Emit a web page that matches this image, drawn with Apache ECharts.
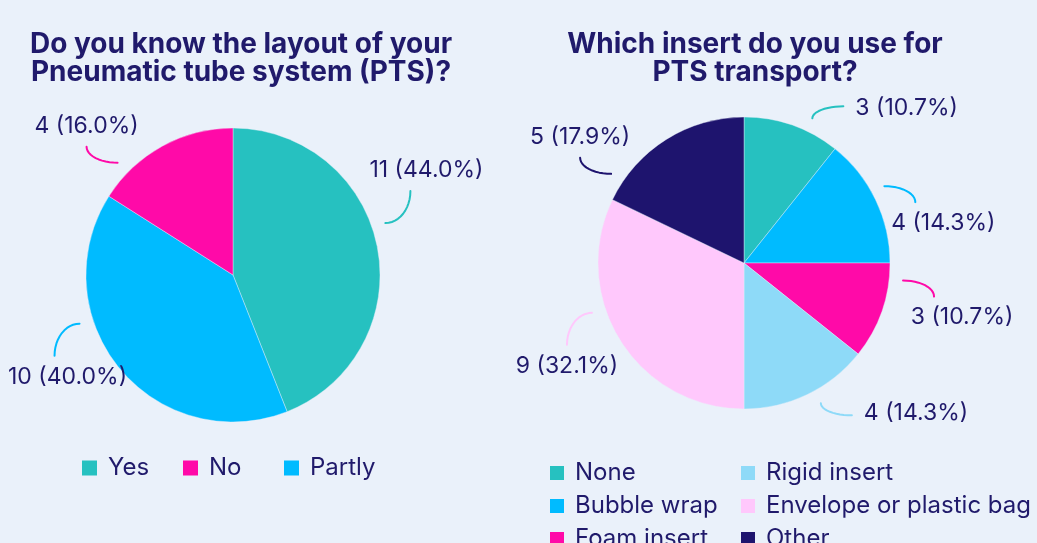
<!DOCTYPE html>
<html>
<head>
<meta charset="utf-8">
<script src="https://cdn.jsdelivr.net/npm/echarts@6/dist/echarts.min.js"></script>
<style>
  html, body { margin: 0; padding: 0; background: #eaf1fa; }
  #myChart { width: 1037px; height: 543px; }
</style>
</head>
<body>
<div id="myChart"></div>
<script>
// left pie: layout knowledge
var layoutNames = ['Yes', 'Partly', 'No'];
var layoutValues = [11, 10, 4];
var layoutLegend = ['Yes', 'No', 'Partly'];

// right pie: insert used
var insertNames = ['None', 'Bubble wrap', 'Foam insert', 'Rigid insert', 'Envelope or plastic bag', 'Other'];
var insertValues = [3, 4, 3, 4, 9, 5];

// styling
var layoutColors = ['#26c1c0', '#00bbff', '#ff0aa8'];
var insertColors = ['#26c1c0', '#00bbff', '#ff0aa8', '#8edaf8', '#ffc8fc', '#1e146e'];
// label tick nudges (degrees) and bend direction
var layoutLabelShift = [-8, 22, -17];
var layoutTick = ['up', 'down', 'up'];
var insertLabelShift = [6, -3, -13, -3, 14, -24];
var insertTick = ['side', 'down', 'down', 'side', 'down', 'up'];

var navy = '#201a6b';
var font = 'Inter';
var chartW = 1037;

function toData(names, values, colors) {
    var arr = [];
    for (var i = 0; i < names.length; i++) {
        arr.push({ name: names[i], value: values[i], itemStyle: { color: colors[i] } });
    }
    return arr;
}

// curved tick + label placement, worked out from each slice's mid angle
function makeLabelLayout(values, cx, cy, r, shifts, ticks) {
    var total = 0, mids = [], acc = 0, i;
    for (i = 0; i < values.length; i++) total += values[i];
    for (i = 0; i < values.length; i++) {
        mids.push((acc + values[i] / 2) / total * 360);
        acc += values[i];
    }
    return function(p) {
        var k = p.dataIndex;
        var big = values[k] / total > 0.25;
        var a = (mids[k] + shifts[k]) * Math.PI / 180;
        var sx = Math.sin(a), sy = -Math.cos(a);
        var hx = sx >= 0 ? 1 : -1, vy = sy >= 0 ? 1 : -1;
        var x0 = cx + (r + 14) * sx, y0 = cy + (r + 14) * sy;
        var pts = [], t, n = 12, x1, y1, lx;
        var halfW = p.labelRect.width / 2;
        if (ticks[k] !== 'side') {
            // out sideways, then bend up / down
            vy = ticks[k] === 'down' ? 1 : -1;
            x1 = x0 + hx * (big ? 25 : 31);
            y1 = y0 + vy * (big ? 32 : 16);
            for (i = 0; i <= n; i++) {
                t = i / n * Math.PI / 2;
                pts.push([x0 + (x1 - x0) * Math.sin(t), y1 + (y0 - y1) * Math.cos(t)]);
            }
            lx = x1 + (hx > 0 ? (big ? 16 : 28) : 0);
            lx = Math.max(8 + halfW, Math.min(chartW - 8 - halfW, lx));
            return {
                x: lx,
                y: y1 + vy * 21,
                align: 'center',
                verticalAlign: 'middle',
                labelLinePoints: pts
            };
        }
        // out up / down, then bend sideways
        x1 = x0 + hx * 31;
        y1 = y0 + vy * 12;
        for (i = 0; i <= n; i++) {
            t = i / n * Math.PI / 2;
            pts.push([x1 - (x1 - x0) * Math.cos(t), y0 + (y1 - y0) * Math.sin(t)]);
        }
        return {
            x: x1 + hx * 12,
            y: y1 - vy * 2,
            align: hx > 0 ? 'left' : 'right',
            verticalAlign: 'middle',
            labelLinePoints: pts
        };
    };
}

function pieSeries(name, center, radius, data, layoutFn) {
    return {
        name: name,
        type: 'pie',
        center: center,
        radius: radius,
        startAngle: 90,
        clockwise: true,
        data: data,
        itemStyle: { borderColor: '#eaf1fa', borderWidth: 0.4 },
        emphasis: { disabled: true },
        label: {
            color: navy,
            fontFamily: font,
            fontSize: 23,
            overflow: 'none',
            formatter: function(p) {
                return p.value + ' (' + p.percent.toFixed(1) + '%)';
            }
        },
        labelLine: {
            show: true,
            smooth: 0,
            lineStyle: { width: 2, cap: 'round', join: 'round' }
        },
        labelLayout: layoutFn
    };
}

var legendText = { color: navy, fontFamily: font, fontSize: 24, lineHeight: 24, padding: [0, 0, 0, 5] };

var myChart = echarts.init(document.getElementById('myChart'));
var option = {
    backgroundColor: '#eaf1fa',
    animation: false,
    title: [{
        text: 'Do you know the layout of your\nPneumatic tube system (PTS)?',
        left: 241,
        top: 31,
        padding: 0,
        textAlign: 'center',
        textStyle: { color: navy, fontFamily: font, fontSize: 28, fontWeight: 'bold', lineHeight: 28 }
    }, {
        text: 'Which insert do you use for\nPTS transport?',
        left: 755,
        top: 31,
        padding: 0,
        textAlign: 'center',
        textStyle: { color: navy, fontFamily: font, fontSize: 28, fontWeight: 'bold', lineHeight: 28, align: 'center' }
    }],
    legend: [{
        data: layoutLegend,
        left: 80,
        top: 456,
        padding: 0,
        icon: 'rect',
        itemWidth: 17,
        itemHeight: 17,
        itemGap: 0,
        textStyle: Object.assign({ width: 73 }, legendText)
    }, {
        data: insertNames.slice(0, 3),
        orient: 'vertical',
        left: 548,
        top: 461,
        height: 120,
        padding: 0,
        icon: 'rect',
        itemWidth: 16,
        itemHeight: 16,
        itemGap: 9,
        textStyle: legendText
    }, {
        data: insertNames.slice(3),
        orient: 'vertical',
        left: 739,
        top: 461,
        height: 120,
        padding: 0,
        icon: 'rect',
        itemWidth: 16,
        itemHeight: 16,
        itemGap: 9,
        textStyle: legendText
    }],
    series: [
        pieSeries('layout', [233, 275], 147, toData(layoutNames, layoutValues, layoutColors),
            makeLabelLayout(layoutValues, 233, 275, 147, layoutLabelShift, layoutTick)),
        pieSeries('insert', [744, 263], 146, toData(insertNames, insertValues, insertColors),
            makeLabelLayout(insertValues, 744, 263, 146, insertLabelShift, insertTick))
    ]
};
myChart.setOption(option);
</script>
</body>
</html>
